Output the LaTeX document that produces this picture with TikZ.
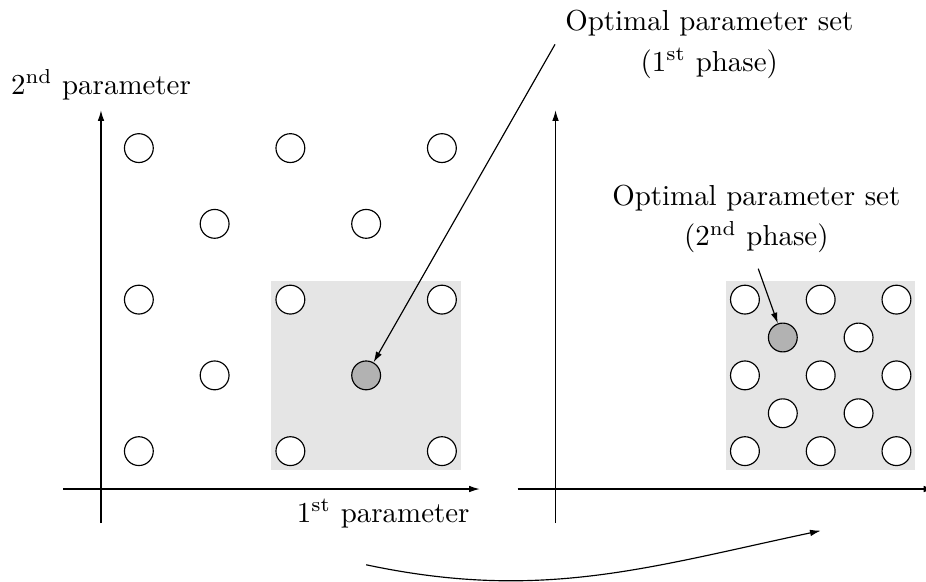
\documentclass[tikz,border=0pt]{standalone}
\usetikzlibrary{arrows.meta}

\begin{document}
\begin{tikzpicture}[x=0.92cm,y=0.92cm]
\tikzset{
  pnt/.style={circle,draw=black,fill=white,minimum size=0.35cm,inner sep=0pt},
  bst/.style={pnt,fill=black!30},
  reg/.style={fill=black!10},
  ax/.style={-{Latex[length=1.3mm,width=0.8mm]}},
  ar/.style={-{Latex[length=1.3mm,width=0.8mm]}}
}
\useasboundingbox (-1.333,-1.2145) rectangle (10.89,6.455);
% 1st phase: coarse grid
\fill[reg] (2.25,0.25) rectangle (4.75,2.75);
\draw[ax] (-0.5,0) -- (5,0) node[below left] (xl) {1\textsuperscript{st} parameter};
\draw[ax] (0,-0.45) -- (0,5) node[above] (yl) {2\textsuperscript{nd} parameter};
\node[pnt] (a1) at (0.5,4.5) {}; \node[pnt] (a2) at (2.5,4.5) {}; \node[pnt] (a3) at (4.5,4.5) {};
\node[pnt] (b1) at (1.5,3.5) {}; \node[pnt] (b2) at (3.5,3.5) {};
\node[pnt] (c1) at (0.5,2.5) {}; \node[pnt] (c2) at (2.5,2.5) {}; \node[pnt] (c3) at (4.5,2.5) {};
\node[pnt] (d1) at (1.5,1.5) {}; \node[bst] (best1) at (3.5,1.5) {};
\node[pnt] (e1) at (0.5,0.5) {}; \node[pnt] (e2) at (2.5,0.5) {}; \node[pnt] (e3) at (4.5,0.5) {};
% 2nd phase: fine grid inside the region
\fill[reg] (8.25,0.25) rectangle (10.75,2.75);
\draw[ax] (5.5,0) -- (11,0);
\draw[ax] (6,-0.45) -- (6,5);
\node[pnt] (f1) at (8.5,2.5) {}; \node[pnt] (f2) at (9.5,2.5) {}; \node[pnt] (f3) at (10.5,2.5) {};
\node[bst] (best2) at (9,2) {}; \node[pnt] (g2) at (10,2) {};
\node[pnt] (h1) at (8.5,1.5) {}; \node[pnt] (h2) at (9.5,1.5) {}; \node[pnt] (h3) at (10.5,1.5) {};
\node[pnt] (i1) at (9,1) {}; \node[pnt] (i2) at (10,1) {};
\node[pnt] (j1) at (8.5,0.5) {}; \node[pnt] (j2) at (9.5,0.5) {}; \node[pnt] (j3) at (10.5,0.5) {};
% labels
\node[align=center] (opt1) at (8.03,5.87) {Optimal parameter set\\[2pt](1\textsuperscript{st} phase)};
\node[align=center] (opt2) at (8.65,3.565) {Optimal parameter set\\[2pt](2\textsuperscript{nd} phase)};
\draw[ar] (opt1.west) -- (best1);
\draw[ar,shorten <=2pt] (opt2.south) -- (best2);
% refinement step
\coordinate (s0) at (3.5,-1); \coordinate (s1) at (9.5,-0.55);
\draw[ar] (s0) to[out=-12,in=192] (s1);
\end{tikzpicture}
\end{document}
